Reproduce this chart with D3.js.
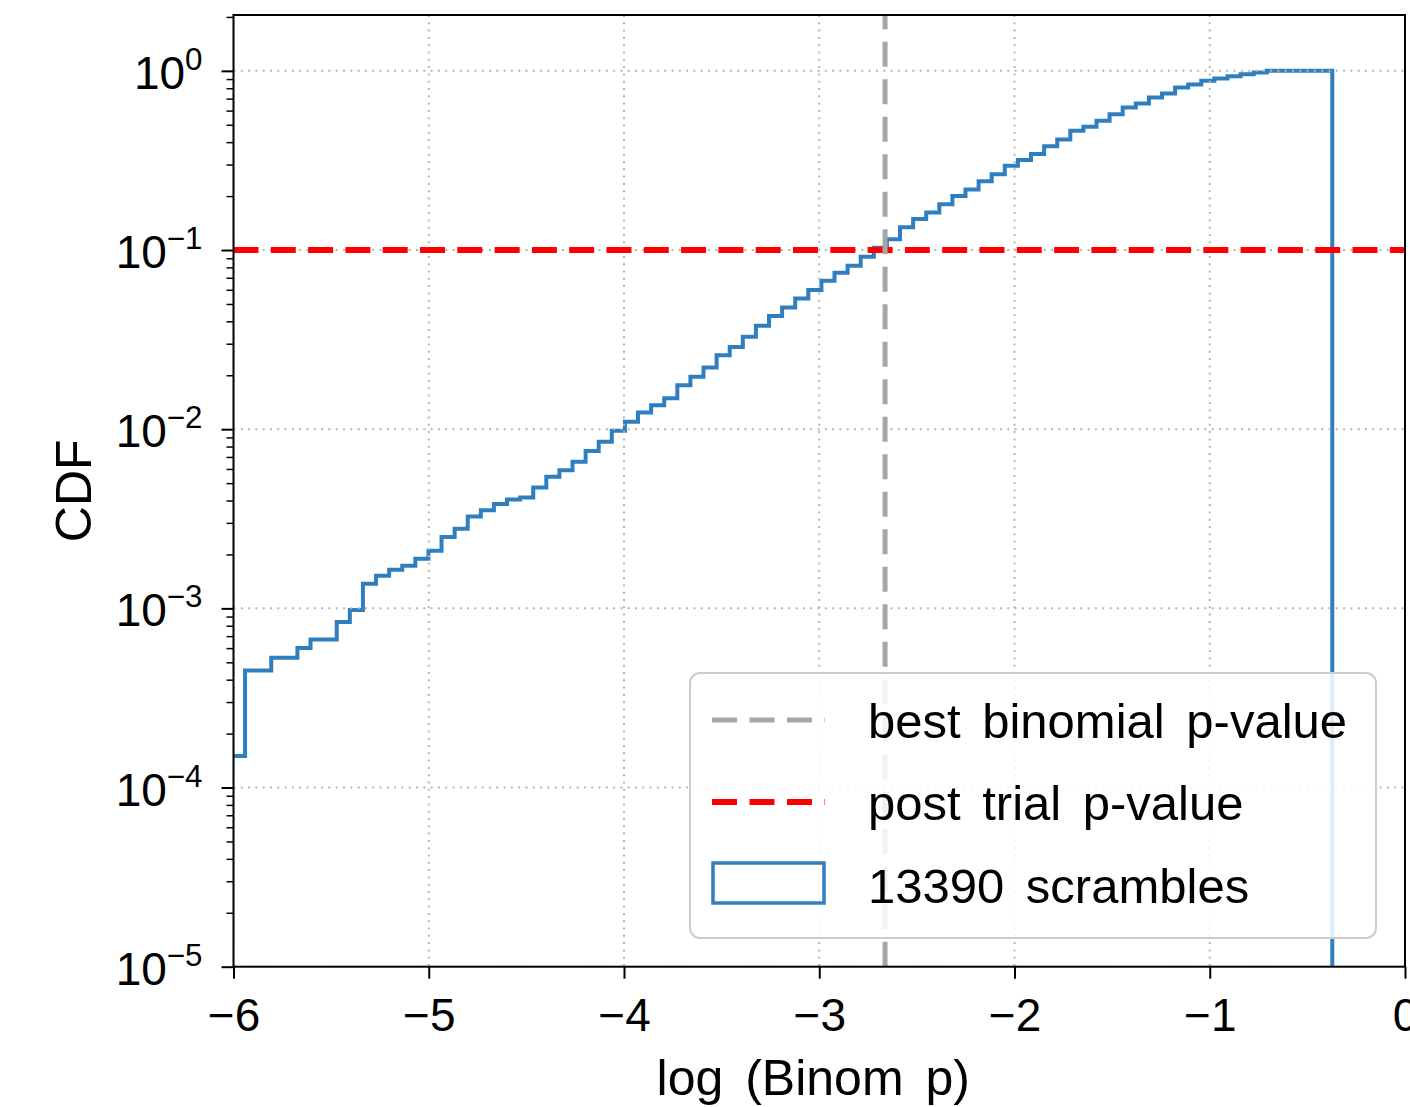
<!DOCTYPE html>
<html>
<head>
<meta charset="utf-8">
<script src="https://cdn.jsdelivr.net/npm/d3@7"></script>
<style>
  html, body { margin: 0; padding: 0; background: #fff; overflow: hidden; }
  text { font-family: "Liberation Sans", Arial, sans-serif; fill: #000; }
</style>
</head>
<body>
<svg id="chart" width="1410" height="1107"></svg>
<script>
// ---- data ----
const nScrambles = 13390;
const bestBinomLogP = -2.663;   // grey dashed vertical line
const postTrialP = 0.1;         // red dashed horizontal line
const binStart = -6.008;        // first bin edge, log10 p
const binWidth = 0.06709;       // uniform histogram bin width
// cumulative fraction of scrambles, one value per bin
const cdf = [
  1.5e-4, 4.5e-4, 4.5e-4, 5.3e-4, 5.3e-4, 6.0e-4, 6.7e-4, 6.7e-4, 8.4e-4, 9.8e-4,
  1.37e-3, 1.52e-3, 1.64e-3, 1.73e-3, 1.89e-3, 2.10e-3, 2.50e-3, 2.78e-3, 3.26e-3, 3.53e-3,
  3.82e-3, 4.05e-3, 4.16e-3, 4.72e-3, 5.42e-3, 5.90e-3, 6.58e-3, 7.55e-3, 8.50e-3, 9.80e-3,
  1.10e-2, 1.24e-2, 1.36e-2, 1.49e-2, 1.76e-2, 1.96e-2, 2.21e-2, 2.59e-2, 2.88e-2, 3.28e-2,
  3.78e-2, 4.28e-2, 4.78e-2, 5.37e-2, 5.98e-2, 6.74e-2, 7.46e-2, 8.16e-2, 9.16e-2, 0.103,
  0.115, 0.134, 0.149, 0.162, 0.180, 0.200, 0.218, 0.242, 0.265, 0.295,
  0.318, 0.344, 0.380, 0.414, 0.463, 0.487, 0.526, 0.573, 0.625, 0.658,
  0.711, 0.748, 0.808, 0.840, 0.880, 0.907, 0.934, 0.958, 0.980, 1.0,
  1.0, 1.0, 1.0, 1.0
];
const xTicks = [-6, -5, -4, -3, -2, -1, 0];
const yExponents = [0, -1, -2, -3, -4, -5];
const legendLabels = ["best binomial p-value", "post trial p-value", nScrambles + " scrambles"];

// ---- layout ----
const plot = { left: 233.5, right: 1405, top: 15, bottom: 966.7 };
const blue = "#2f7fc0", grey = "#a6a6a6", red = "#ff0000", gridColor = "#b4b4b4";

const svg = d3.select("#chart");
svg.append("rect").attr("width", 1410).attr("height", 1107).attr("fill", "#fff");

const x = d3.scaleLinear().domain([-6, 0]).range([plot.left, plot.right]);
const y = d3.scaleLog().domain([1e-5, 2.05]).range([plot.bottom, plot.top]);

svg.append("clipPath").attr("id", "plotClip")
  .append("rect")
  .attr("x", plot.left).attr("y", plot.top)
  .attr("width", plot.right - plot.left).attr("height", plot.bottom - plot.top);

const body = svg.append("g").attr("clip-path", "url(#plotClip)");

// cumulative step histogram
const edges = cdf.map((_, i) => binStart + i * binWidth);
const lastEdge = binStart + cdf.length * binWidth;
const stepPoints = cdf.map((v, i) => [edges[i], v]);
stepPoints.push([lastEdge, cdf[cdf.length - 1]]);
stepPoints.push([lastEdge, 1e-7]);

const stepLine = d3.line()
  .x(d => x(d[0]))
  .y(d => y(d[1]))
  .curve(d3.curveStepAfter);

body.append("path")
  .attr("d", stepLine(stepPoints))
  .attr("fill", "none")
  .attr("stroke", blue)
  .attr("stroke-width", 4);

// grid
const yMajor = yExponents.map(e => Math.pow(10, e));
body.append("g").selectAll("line")
  .data(xTicks)
  .join("line")
  .attr("x1", d => x(d)).attr("x2", d => x(d))
  .attr("y1", plot.top).attr("y2", plot.bottom)
  .attr("stroke", gridColor).attr("stroke-width", 2)
  .attr("stroke-dasharray", "2,5.3");
body.append("g").selectAll("line")
  .data(yMajor)
  .join("line")
  .attr("x1", plot.left).attr("x2", plot.right)
  .attr("y1", d => y(d)).attr("y2", d => y(d))
  .attr("stroke", gridColor).attr("stroke-width", 2)
  .attr("stroke-dasharray", "2,5.3");

// reference lines
body.append("line")
  .attr("x1", plot.left).attr("x2", plot.right)
  .attr("y1", y(postTrialP)).attr("y2", y(postTrialP))
  .attr("stroke", red).attr("stroke-width", 6)
  .attr("stroke-dasharray", "25,12.3");
body.append("line")
  .attr("x1", x(bestBinomLogP)).attr("x2", x(bestBinomLogP))
  .attr("y1", plot.bottom).attr("y2", plot.top)
  .attr("stroke", grey).attr("stroke-width", 5)
  .attr("stroke-dasharray", "25,12.5");

// axes
const tickFont = 46;
const xAxis = svg.append("g")
  .attr("transform", `translate(0,${plot.bottom})`)
  .call(d3.axisBottom(x).tickValues(xTicks).tickSize(12).tickSizeOuter(0).tickPadding(20)
    .tickFormat(d3.format("d")));
xAxis.select(".domain").remove();
xAxis.selectAll(".tick line").attr("stroke", "#000").attr("stroke-width", 2);
xAxis.selectAll(".tick text").attr("font-size", tickFont).attr("font-family", null);

const yAxis = svg.append("g")
  .attr("transform", `translate(${plot.left},0)`)
  .call(d3.axisLeft(y).tickValues(yMajor).tickSize(12).tickSizeOuter(0).tickFormat(""));
yAxis.select(".domain").remove();
yAxis.selectAll(".tick line").attr("stroke", "#000").attr("stroke-width", 2);

const yMinor = [];
yExponents.forEach(e => {
  for (let m = 2; m <= 9; m++) {
    const v = m * Math.pow(10, e - 1);
    if (v > 1e-5 && v < 2.05) yMinor.push(v);
  }
});
yMinor.push(2);
const yAxisMinor = svg.append("g")
  .attr("transform", `translate(${plot.left},0)`)
  .call(d3.axisLeft(y).tickValues(yMinor.filter(v => v <= 2.05)).tickSize(7).tickSizeOuter(0).tickFormat(""));
yAxisMinor.select(".domain").remove();
yAxisMinor.selectAll(".tick line").attr("stroke", "#000").attr("stroke-width", 1.5);

// y tick labels as 10^n
const yLabels = svg.append("g");
yExponents.forEach(e => {
  const t = yLabels.append("text")
    .attr("x", plot.left - 31)
    .attr("y", y(Math.pow(10, e)) + 18)
    .attr("text-anchor", "end")
    .attr("font-size", tickFont);
  t.append("tspan").text("10");
  t.append("tspan")
    .attr("dy", -19)
    .attr("font-size", tickFont * 0.68)
    .text(e === 0 ? "0" : "\u2212" + Math.abs(e));
});

// frame
svg.append("rect")
  .attr("x", plot.left).attr("y", plot.top)
  .attr("width", plot.right - plot.left).attr("height", plot.bottom - plot.top)
  .attr("fill", "none").attr("stroke", "#000").attr("stroke-width", 2);

// axis titles
svg.append("text")
  .attr("x", (plot.left + plot.right) / 2 - 6)
  .attr("y", 1095)
  .attr("text-anchor", "middle")
  .attr("font-size", 50)
  .attr("word-spacing", 8)
  .text("log (Binom p)");
svg.append("text")
  .attr("transform", `translate(91,${(plot.top + plot.bottom) / 2}) rotate(-90)`)
  .attr("text-anchor", "middle")
  .attr("font-size", 50)
  .text("CDF");

// legend
const legend = svg.append("g");
legend.append("rect")
  .attr("x", 690).attr("y", 673).attr("width", 686).attr("height", 265)
  .attr("rx", 10).attr("ry", 10)
  .attr("fill", "#fff").attr("fill-opacity", 0.85)
  .attr("stroke", "#cccccc").attr("stroke-width", 2);

const rowBase = [738, 820, 903];
legend.append("line")
  .attr("x1", 712).attr("x2", 825).attr("y1", 720).attr("y2", 720)
  .attr("stroke", grey).attr("stroke-width", 5).attr("stroke-dasharray", "25,12.5");
legend.append("line")
  .attr("x1", 712).attr("x2", 825).attr("y1", 802).attr("y2", 802)
  .attr("stroke", red).attr("stroke-width", 6).attr("stroke-dasharray", "25,12.5");
legend.append("rect")
  .attr("x", 713).attr("y", 863).attr("width", 111).attr("height", 40)
  .attr("fill", "none").attr("stroke", blue).attr("stroke-width", 3.5);

legend.selectAll("text.lab")
  .data(legendLabels)
  .join("text")
  .attr("class", "lab")
  .attr("x", 868)
  .attr("y", (d, i) => rowBase[i])
  .attr("font-size", 49)
  .attr("word-spacing", 8)
  .text(d => d);
</script>
</body>
</html>
